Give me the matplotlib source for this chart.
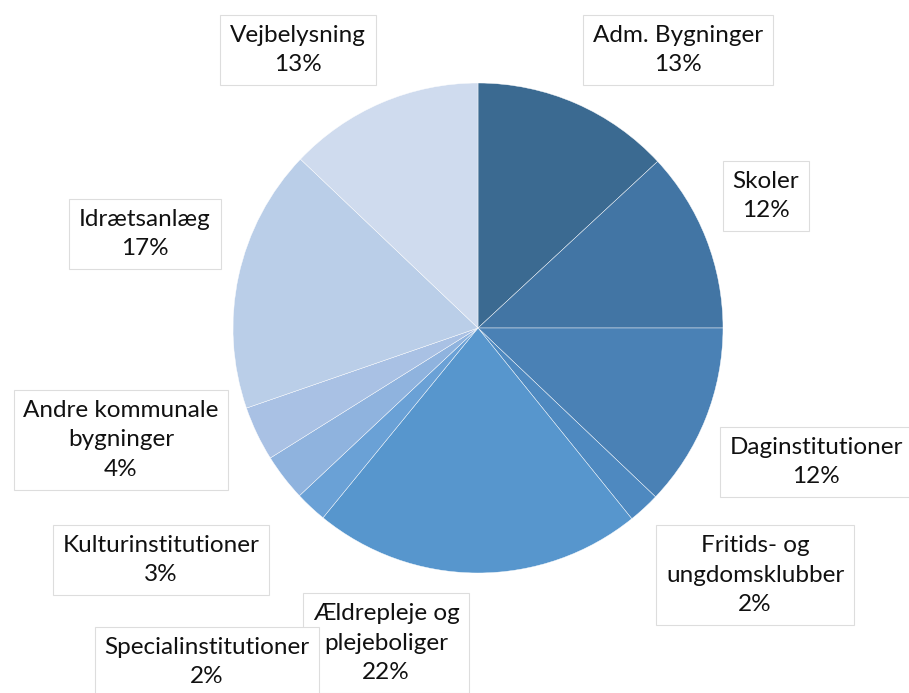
import matplotlib.pyplot as plt

# Data (clockwise from 12 o'clock)
labels = ['Adm. Bygninger', 'Skoler', 'Daginstitutioner', 'Fritids- og\nungdomsklubber',
          'Ældrepleje og\nplejeboliger', 'Specialinstitutioner', 'Kulturinstitutioner',
          'Andre kommunale\nbygninger', 'Idrætsanlæg', 'Vejbelysning']
values = [13.1, 11.9, 12.1, 2.1, 21.7, 2.1, 3.1, 3.6, 17.4, 12.9]
colors = ['#3B6A91', '#4275A4', '#4A81B5', '#4E89C0', '#5796CD', '#6AA1D6',
          '#8FB3DE', '#A9C1E4', '#BACEE8', '#CFDBEE']

# label centres in pixel coords (x from left, y from top)
label_pos = [(678, 50), (766, 196), (816, 462), (755, 575), (386, 643),
             (207, 662), (161, 560), (121, 440), (145, 234), (298, 50)]

W, H = 909, 693
plt.rcParams['font.family'] = ['Lato', 'DejaVu Sans']

fig = plt.figure(figsize=(W / 100, H / 100), dpi=100)
ax = fig.add_axes([0, 0, 1, 1])

ax.pie(values, colors=colors, startangle=90, counterclock=False,
       center=(478, H - 328), radius=245,
       wedgeprops=dict(edgecolor='white', linewidth=0.3))
ax.set_xlim(0, W)
ax.set_ylim(0, H)
ax.set_aspect('auto')
ax.axis('off')

for lab, v, (x, y) in zip(labels, values, label_pos):
    ax.text(x, H - y, f'{lab}\n{round(v)}%', ha='center', va='center',
            fontsize=17.5, color='#111111', linespacing=1.5,
            bbox=dict(boxstyle='square,pad=0.4', facecolor='white',
                      edgecolor='#DDDDDD', linewidth=0.8))

fig.savefig('out.png', dpi=100)
